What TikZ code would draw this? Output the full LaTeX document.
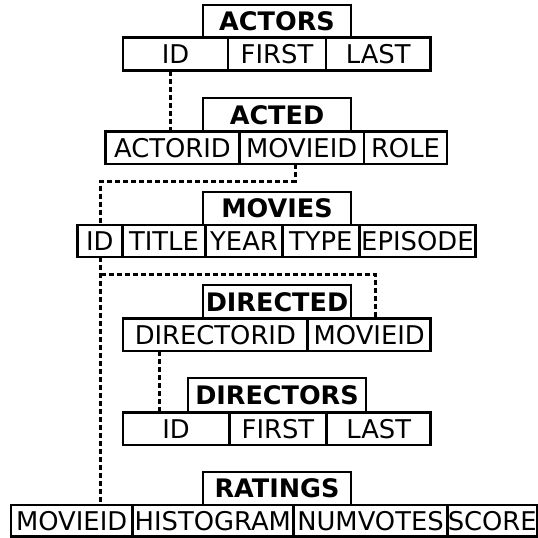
\documentclass[tikz,border=0pt]{standalone}
\usepackage{fontspec}
\setmainfont{DejaVu Sans}
\begin{document}
\begin{tikzpicture}[x=1pt,y=-1pt,
  fld/.style={draw, line width=2.6pt, inner sep=0pt, outer sep=0pt,
    font=\fontsize{25.8}{30}\selectfont, text height=18.8pt, text depth=0pt},
  ttl/.style={fld, line width=2pt, font=\fontsize{25.5}{30}\selectfont\bfseries, text height=18.6pt},
  conn/.style={line width=3pt, dash pattern=on 5pt off 3pt}]
\useasboundingbox (0,0) rectangle (538,538);

% ACTORS
\node[ttl, minimum width=148pt, minimum height=32pt] (acT) at (277,21.3) {ACTORS};
\node[fld, minimum width=105pt, minimum height=33.4pt] (acID) at (175.5,54) {ID};
\node[fld, minimum width=98pt, minimum height=33.4pt] (acFirst) at (277,54) {FIRST};
\node[fld, minimum width=104.5pt, minimum height=33.4pt] (acLast) at (378.25,54) {LAST};

% ACTED
\node[ttl, minimum width=148pt, minimum height=33.4pt] (adT) at (277,115) {ACTED};
\node[fld, minimum width=133.6pt, minimum height=32.3pt] (adActorID) at (172.5,147.85) {ACTORID};
\node[fld, minimum width=124.7pt, minimum height=32.3pt] (adMovieID) at (301.65,147.85) {MOVIEID};
\node[fld, minimum width=83pt, minimum height=32.3pt] (adRole) at (405.5,147.85) {ROLE};

% MOVIES
\node[ttl, minimum width=148pt, minimum height=33.3pt] (mvT) at (277,208.35) {MOVIES};
\node[fld, minimum width=45pt, minimum height=32pt] (mvID) at (99.8,241) {ID};
\node[fld, minimum width=83.4pt, minimum height=32pt] (mvTitle) at (164,241) {TITLE};
\node[fld, minimum width=76.6pt, minimum height=32pt] (mvYear) at (244,241) {YEAR};
\node[fld, minimum width=77pt, minimum height=32pt] (mvType) at (320.8,241) {TYPE};
\node[fld, minimum width=116.2pt, minimum height=32pt] (mvEpisode) at (417.4,241) {EPISODE};

% DIRECTED
\node[ttl, minimum width=148pt, minimum height=33.5pt] (dT) at (277,301.75) {DIRECTED};
\node[fld, minimum width=184.7pt, minimum height=32.5pt] (dDirID) at (215.35,334.75) {DIRECTORID};
\node[fld, minimum width=123pt, minimum height=32.5pt] (dMovieID) at (369.2,334.75) {MOVIEID};

% DIRECTORS
\node[ttl, minimum width=177.4pt, minimum height=34pt] (drT) at (277,395.3) {DIRECTORS};
\node[fld, minimum width=106.2pt, minimum height=32.7pt] (drID) at (176.1,428.65) {ID};
\node[fld, minimum width=97.5pt, minimum height=32.7pt] (drFirst) at (277.95,428.65) {FIRST};
\node[fld, minimum width=104pt, minimum height=32.7pt] (drLast) at (378.7,428.65) {LAST};

% RATINGS
\node[ttl, minimum width=148pt, minimum height=33.5pt] (rtT) at (277,488.25) {RATINGS};
\node[fld, minimum width=121.3pt, minimum height=31.5pt] (rtMovieID) at (71.65,520.75) {MOVIEID};
\node[fld, minimum width=161pt, minimum height=31.5pt] (rtHist) at (212.8,520.75) {HISTOGRAM};
\node[fld, minimum width=154.4pt, minimum height=31.5pt] (rtVotes) at (370.5,520.75) {NUMVOTES};
\node[fld, minimum width=89.1pt, minimum height=31.5pt] (rtScore) at (492.25,520.75) {SCORE};

% connectors
\coordinate (ja) at (170,100);
\coordinate (j1) at (295,181);
\coordinate (j2) at (100.5,181);
\coordinate (j3) at (100.5,274);
\coordinate (j4) at (375,274);
\coordinate (j5) at (159,380);

\draw[conn] (acID.south -| ja) -- (adActorID.north -| ja);
\draw[conn] (adMovieID.south -| j1) -- (j1) -- (j2) -- (mvID.north -| j2);
\draw[conn] (mvID.south -| j3) -- (rtMovieID.north -| j3);
\draw[conn] (j3) -- (j4) -- (dMovieID.north -| j4);
\draw[conn] (dDirID.south -| j5) -- (drID.north -| j5);
\end{tikzpicture}
\end{document}
